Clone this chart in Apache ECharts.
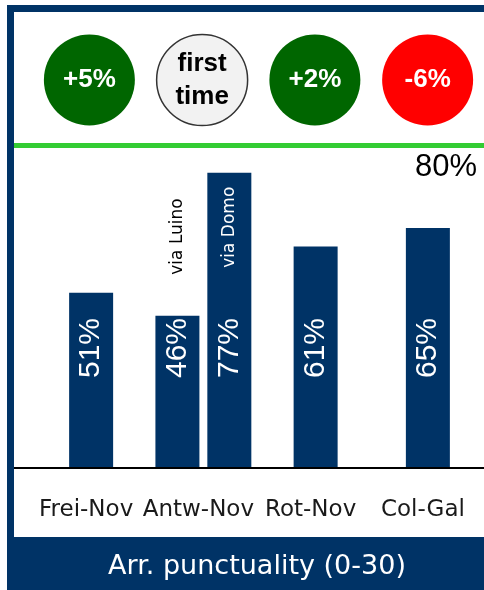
<!DOCTYPE html>
<html>
<head>
<meta charset="utf-8">
<script src="https://cdn.jsdelivr.net/npm/echarts@6/dist/echarts.min.js"></script>
<style>
  html, body { margin: 0; padding: 0; background: #fff; }
  #chart { width: 484px; height: 590px; }
</style>
</head>
<body>
<div id="chart"></div>
<script>
// data
const categories = ["Frei-Nov", "Antw-Nov", "Rot-Nov", "Col-Gal"]
const mainValues = [51, "-", 61, 65]
const luinoValues = ["-", 46, "-", "-"]
const domoValues = ["-", 77, "-", "-"]
const changes = ["+5%", "first time", "+2%", "-6%"]
const target = 80
const title = "Arr. punctuality (0-30)"

const navy = "#003366"

// colour of the change circle
const circleStyle = (txt) => {
  if (txt.startsWith("+")) return { color: "#006600", borderWidth: 0, text: "#fff" }
  if (txt.startsWith("-")) return { color: "#ff0000", borderWidth: 0, text: "#fff" }
  return { color: "#f2f2f2", borderColor: "#333", borderWidth: 1.5, text: "#000" }
}

const valueLabel = {
  show: true,
  position: "insideBottom",
  distance: 90,
  rotate: 90,
  align: "left",
  verticalAlign: "middle",
  formatter: "{c}%",
  color: "#fff",
  fontFamily: "Liberation Sans",
  fontSize: 30,
}

const myChart = echarts.init(document.getElementById("chart"))

const option = {
  animation: false,
  title: {
    text: title,
    left: 252,
    top: 548,
    textAlign: "center",
    textStyle: { color: "#fff", fontFamily: "DejaVu Sans", fontWeight: "normal", fontSize: 27 },
  },
  grid: [
    { left: 35, right: 0, top: 145, bottom: 122 },
    { left: 33, width: 458, top: 35, height: 90 },
  ],
  xAxis: [
    {
      type: "category",
      gridIndex: 0,
      data: categories,
      axisLine: { show: false },
      axisTick: { show: false },
      axisLabel: {
        interval: 0,
        margin: 31,
        padding: [0, 10, 0, 0],
        color: "#1a1a1a",
        fontFamily: "DejaVu Sans",
        fontSize: 23,
      },
    },
    { type: "category", gridIndex: 0, data: categories, show: false },
    { type: "category", gridIndex: 0, data: categories, show: false },
    { type: "category", gridIndex: 1, data: categories, show: false },
  ],
  yAxis: [
    { type: "value", gridIndex: 0, min: 13, max: 83, show: false },
    { type: "value", gridIndex: 1, min: -1, max: 1, show: false },
  ],
  series: [
    {
      type: "bar",
      xAxisIndex: 0,
      yAxisIndex: 0,
      data: mainValues,
      barWidth: 44,
      itemStyle: { color: navy },
      label: valueLabel,
    },
    {
      name: "via Luino",
      type: "bar",
      xAxisIndex: 1,
      yAxisIndex: 0,
      data: luinoValues,
      barWidth: 44,
      itemStyle: { color: navy },
      label: valueLabel,
    },
    {
      name: "via Domo",
      type: "bar",
      xAxisIndex: 1,
      yAxisIndex: 0,
      data: domoValues,
      barWidth: 44,
      barGap: "18%",
      itemStyle: { color: navy },
      label: valueLabel,
    },
    // route notes, same layout as the pair above
    {
      name: "via Luino",
      type: "bar",
      xAxisIndex: 2,
      yAxisIndex: 0,
      data: luinoValues,
      barWidth: 44,
      silent: true,
      itemStyle: { color: "transparent" },
      label: {
        show: true,
        position: "top",
        distance: 45,
        rotate: 90,
        align: "left",
        verticalAlign: "middle",
        formatter: "{a}",
        color: "#000",
        fontFamily: "DejaVu Sans",
        fontSize: 17,
        offset: [-4, 0],
      },
    },
    {
      name: "via Domo",
      type: "bar",
      xAxisIndex: 2,
      yAxisIndex: 0,
      data: domoValues,
      barWidth: 44,
      barGap: "18%",
      silent: true,
      itemStyle: { color: "transparent" },
      label: {
        show: true,
        position: "insideTop",
        distance: 14,
        rotate: 90,
        align: "right",
        verticalAlign: "middle",
        formatter: "{a}",
        color: "#fff",
        fontFamily: "DejaVu Sans",
        fontSize: 17,
      },
    },
    // change circles
    {
      type: "scatter",
      xAxisIndex: 3,
      yAxisIndex: 1,
      symbolSize: 91,
      itemStyle: { opacity: 1 },
      data: changes.map((txt) => {
        const s = circleStyle(txt)
        return {
          value: 0,
          name: txt,
          itemStyle: { color: s.color, borderColor: s.borderColor, borderWidth: s.borderWidth, opacity: 1 },
          label: { color: s.text },
        }
      }),
      label: {
        show: true,
        position: "inside",
        formatter: (p) => p.name.replace(" ", "\n"),
        fontFamily: "Liberation Sans",
        fontWeight: "bold",
        fontSize: 26,
        lineHeight: 33,
      },
    },
  ],
  graphic: [
    { type: "rect", shape: { x: 7, y: 5, width: 477, height: 7 }, style: { fill: navy } },
    { type: "rect", shape: { x: 7, y: 5, width: 7, height: 585 }, style: { fill: navy } },
    { type: "rect", shape: { x: 7, y: 537, width: 477, height: 53 }, style: { fill: navy } },
    {
      type: "line",
      z: 10,
      shape: { x1: 14, y1: 145.5, x2: 484, y2: 145.5 },
      style: { stroke: "#33cc33", lineWidth: 5 },
    },
    {
      type: "line",
      z: 10,
      shape: { x1: 14, y1: 468, x2: 484, y2: 468 },
      style: { stroke: "#000", lineWidth: 2 },
    },
    {
      type: "text",
      z: 10,
      x: 477,
      y: 167,
      style: {
        text: target + "%",
        fill: "#000",
        font: "31px 'Liberation Sans'",
        textAlign: "right",
        textVerticalAlign: "middle",
      },
    },
  ],
}

myChart.setOption(option)
</script>
</body>
</html>
